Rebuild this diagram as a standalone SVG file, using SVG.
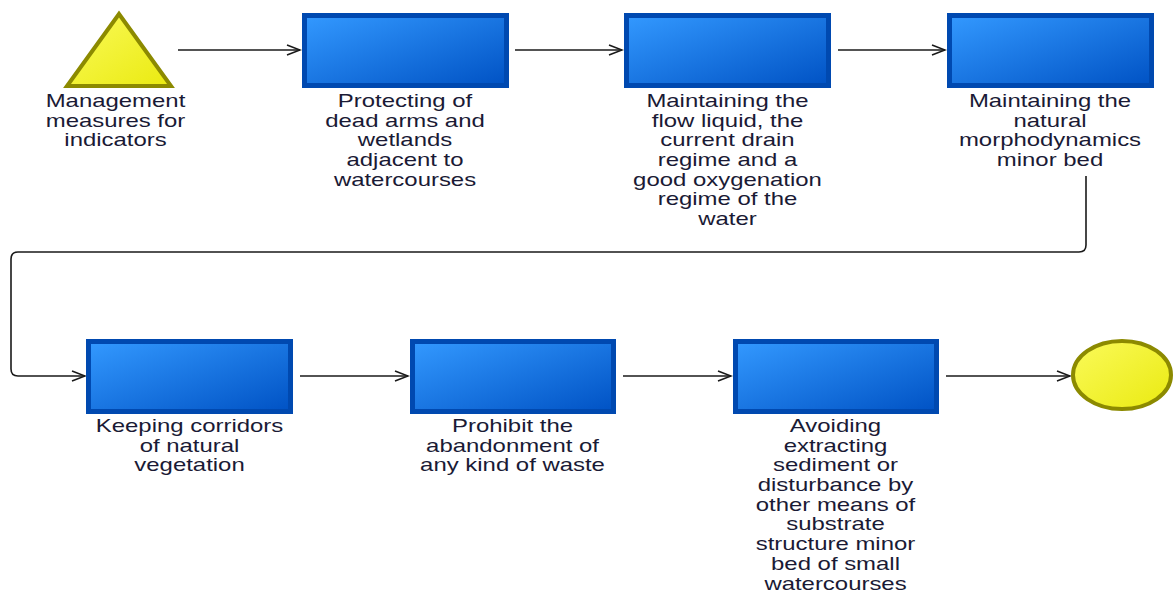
<svg xmlns="http://www.w3.org/2000/svg" width="1173" height="594" viewBox="0 0 1173 594">
<style>
.box{fill:url(#gBlue);stroke:#0049b0;stroke-width:5}
.yel{fill:url(#gYel);stroke:#8c8a00;stroke-width:4}
.lbl{font-family:"Liberation Sans",Arial,sans-serif;font-size:18px;fill:#1a1a35;text-anchor:middle}
.con{fill:none;stroke:#1a1a1a;stroke-width:1.6;marker-end:url(#arr)}
</style>
<defs>
<linearGradient id="gBlue" x1="0" y1="0" x2="1" y2="1">
<stop offset="0" stop-color="#3399ff"/>
<stop offset="1" stop-color="#0052c4"/>
</linearGradient>
<linearGradient id="gYel" x1="0" y1="0" x2="1" y2="1">
<stop offset="0" stop-color="#fafa5a"/>
<stop offset="1" stop-color="#eaea10"/>
</linearGradient>
<marker id="arr" markerWidth="16" markerHeight="12" refX="14" refY="6" orient="auto" markerUnits="userSpaceOnUse">
<path d="M1,1 L14,6 L1,11" fill="none" stroke="#1a1a1a" stroke-width="1.6"/>
</marker>
</defs>
<rect width="1173" height="594" fill="#ffffff"/>
<g id="connectors">
<path class="con" d="M178,50 H300"/>
<path class="con" d="M515,50 H622"/>
<path class="con" d="M838,50 H945"/>
<path class="con" d="M1086,176 V245 Q1086,252 1079,252 H18 Q11,252 11,259 V369 Q11,376 18,376 H85"/>
<path class="con" d="M300,376 H408"/>
<path class="con" d="M623,376 H731"/>
<path class="con" d="M946,376 H1070"/>
</g>
<g id="start">
<polygon class="yel" points="119,14 67,86 171,86"/>
<text class="lbl" transform="translate(115.5,0) scale(1.33,1)"><tspan x="0" y="107">Management</tspan><tspan x="0" dy="19.7">measures for</tspan><tspan x="0" dy="19.7">indicators</tspan></text>
</g>
<g id="n1">
<rect class="box" x="304.5" y="15.5" width="202" height="70"/>
<text class="lbl" transform="translate(405,0) scale(1.33,1)"><tspan x="0" y="107">Protecting of</tspan><tspan x="0" dy="19.7">dead arms and</tspan><tspan x="0" dy="19.7">wetlands</tspan><tspan x="0" dy="19.7">adjacent to</tspan><tspan x="0" dy="19.7">watercourses</tspan></text>
</g>
<g id="n2">
<rect class="box" x="626.5" y="15.5" width="202" height="70"/>
<text class="lbl" transform="translate(727.5,0) scale(1.33,1)"><tspan x="0" y="107">Maintaining the</tspan><tspan x="0" dy="19.7">flow liquid, the</tspan><tspan x="0" dy="19.7">current drain</tspan><tspan x="0" dy="19.7">regime and a</tspan><tspan x="0" dy="19.7">good oxygenation</tspan><tspan x="0" dy="19.7">regime of the</tspan><tspan x="0" dy="19.7">water</tspan></text>
</g>
<g id="n3">
<rect class="box" x="949.5" y="15.5" width="202" height="70"/>
<text class="lbl" transform="translate(1050,0) scale(1.33,1)"><tspan x="0" y="107">Maintaining the</tspan><tspan x="0" dy="19.7">natural</tspan><tspan x="0" dy="19.7">morphodynamics</tspan><tspan x="0" dy="19.7">minor bed</tspan></text>
</g>
<g id="n4">
<rect class="box" x="88.5" y="341.5" width="202" height="70"/>
<text class="lbl" transform="translate(189.5,0) scale(1.33,1)"><tspan x="0" y="432">Keeping corridors</tspan><tspan x="0" dy="19.7">of natural</tspan><tspan x="0" dy="19.7">vegetation</tspan></text>
</g>
<g id="n5">
<rect class="box" x="412.5" y="341.5" width="201" height="70"/>
<text class="lbl" transform="translate(512.5,0) scale(1.33,1)"><tspan x="0" y="432">Prohibit the</tspan><tspan x="0" dy="19.7">abandonment of</tspan><tspan x="0" dy="19.7">any kind of waste</tspan></text>
</g>
<g id="n6">
<rect class="box" x="735.5" y="341.5" width="201" height="70"/>
<text class="lbl" transform="translate(835.5,0) scale(1.33,1)"><tspan x="0" y="432">Avoiding</tspan><tspan x="0" dy="19.7">extracting</tspan><tspan x="0" dy="19.7">sediment or</tspan><tspan x="0" dy="19.7">disturbance by</tspan><tspan x="0" dy="19.7">other means of</tspan><tspan x="0" dy="19.7">substrate</tspan><tspan x="0" dy="19.7">structure minor</tspan><tspan x="0" dy="19.7">bed of small</tspan><tspan x="0" dy="19.7">watercourses</tspan></text>
</g>
<g id="end">
<ellipse class="yel" cx="1122" cy="375" rx="49" ry="34"/>
</g>
</svg>
